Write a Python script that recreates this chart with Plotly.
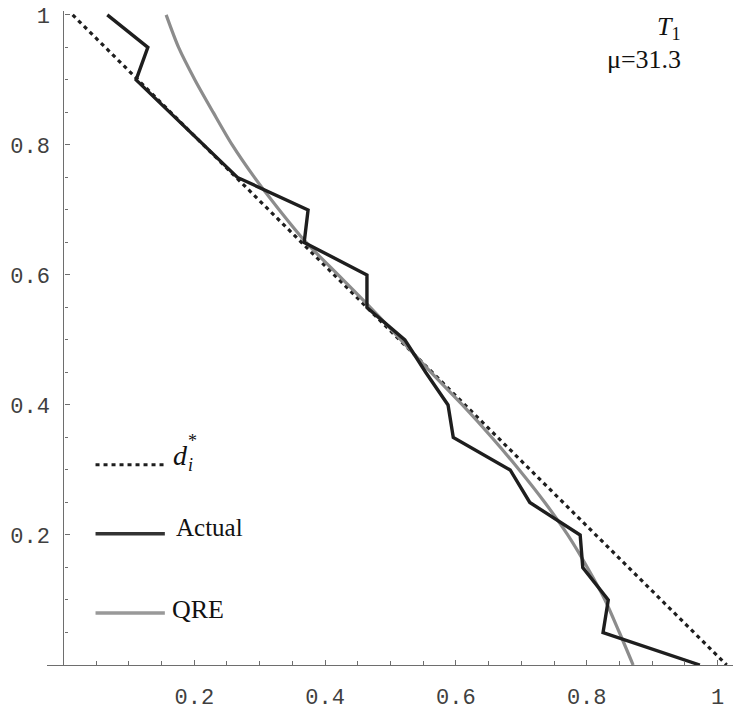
import plotly.graph_objects as go

# Share levels (y) at which each curve is evaluated
actual_y = [1.0, 0.95, 0.90, 0.85, 0.80, 0.75, 0.70, 0.65, 0.60, 0.55, 0.50,
            0.45, 0.40, 0.35, 0.30, 0.25, 0.20, 0.15, 0.10, 0.05, 0.0]
actual_x = [0.067, 0.129, 0.111, 0.163, 0.214, 0.266, 0.374, 0.368, 0.464, 0.464, 0.522,
            0.554, 0.588, 0.596, 0.683, 0.713, 0.790, 0.794, 0.833, 0.825, 0.973]

qre_y = [1.0, 0.95, 0.90, 0.85, 0.80, 0.75, 0.70, 0.65, 0.60, 0.55, 0.50,
         0.45, 0.40, 0.35, 0.30, 0.25, 0.20, 0.15, 0.10, 0.05, 0.0]
qre_x = [0.157, 0.176, 0.201, 0.229, 0.258, 0.292, 0.330, 0.371, 0.420, 0.469, 0.516,
         0.562, 0.610, 0.655, 0.697, 0.736, 0.771, 0.801, 0.828, 0.850, 0.871]

dstar_y = [1.0, 0.0]
dstar_x = [0.014, 1.014]

tick_vals = [0.2, 0.4, 0.6, 0.8, 1.0]
tick_text = ["0.2", "0.4", "0.6", "0.8", "1"]
minor_vals = [round(0.05 * k, 2) for k in range(1, 21)]

BLACK = "#1e1e1e"
GREY = "#8c8c8c"
AXIS = "#6e6e6e"
DOT = "4px,4px"

XR = [-0.0252, 1.0237]
YR = [0.0, 1.006]

fig = go.Figure()
fig.add_trace(go.Scatter(x=dstar_x, y=dstar_y, mode="lines",
                         line=dict(color=BLACK, width=3.2, dash=DOT)))
fig.add_trace(go.Scatter(x=qre_x, y=qre_y, mode="lines",
                         line=dict(color=GREY, width=3.2, shape="spline", smoothing=0.8)))
fig.add_trace(go.Scatter(x=actual_x, y=actual_y, mode="lines",
                         line=dict(color=BLACK, width=3.4)))

# Hand-drawn key
key = [
    (0.308, dict(color=BLACK, width=3.2, dash=DOT)),
    (0.202, dict(color="#333333", width=3.6)),
    (0.080, dict(color="#999999", width=3.6)),
]
for ky, ln in key:
    fig.add_shape(type="line", xref="x", yref="y", x0=0.049, x1=0.155, y0=ky, y1=ky,
                  line=ln)

serif = "Liberation Serif"
fig.add_annotation(x=0.165, y=0.322, xref="x", yref="y", text="<i>d</i>",
                   showarrow=False, xanchor="left", yanchor="middle",
                   font=dict(family=serif, size=28, color="#111"))
fig.add_annotation(x=0.188, y=0.344, xref="x", yref="y", text="*",
                   showarrow=False, xanchor="left", yanchor="middle",
                   font=dict(family=serif, size=18, color="#111"))
fig.add_annotation(x=0.187, y=0.307, xref="x", yref="y", text="<i>i</i>",
                   showarrow=False, xanchor="left", yanchor="middle",
                   font=dict(family=serif, size=18, color="#111"))
fig.add_annotation(x=0.169, y=0.212, xref="x", yref="y", text="Actual",
                   showarrow=False, xanchor="left", yanchor="middle",
                   font=dict(family=serif, size=25, color="#111"))
fig.add_annotation(x=0.163, y=0.085, xref="x", yref="y", text="QRE",
                   showarrow=False, xanchor="left", yanchor="middle",
                   font=dict(family=serif, size=26, color="#111"))
fig.add_annotation(x=0.947, y=0.980, xref="x", yref="y", text="<i>T</i><sub>1</sub>",
                   showarrow=False, xanchor="right", yanchor="middle",
                   font=dict(family=serif, size=26, color="#111"))
fig.add_annotation(x=0.947, y=0.932, xref="x", yref="y", text="\u03bc=31.3",
                   showarrow=False, xanchor="right", yanchor="middle",
                   font=dict(family=serif, size=26, color="#111"))

mono = dict(family="Liberation Mono", size=22, color="#404040")
fig.update_layout(
    width=733, height=711,
    margin=dict(l=47, r=0, t=11, b=42),
    paper_bgcolor="white", plot_bgcolor="white",
    showlegend=False,
    xaxis=dict(range=XR, showgrid=False, zeroline=False,
               showline=True, linecolor=AXIS, linewidth=1.3,
               tickmode="array", tickvals=tick_vals, ticktext=tick_text,
               ticks="inside", ticklen=5, tickwidth=1.2, tickcolor=AXIS,
               ticklabelstandoff=11,
               minor=dict(tickmode="array", tickvals=minor_vals, ticks="inside",
                          ticklen=3.5, tickwidth=1.1, tickcolor=AXIS),
               tickfont=mono),
    yaxis=dict(range=YR, showgrid=False, zeroline=False,
               anchor="free", position=0.0252 / (XR[1] - XR[0]),
               showline=True, linecolor=AXIS, linewidth=1.3,
               tickmode="array", tickvals=tick_vals, ticktext=tick_text,
               ticks="inside", ticklen=5, tickwidth=1.2, tickcolor=AXIS,
               ticklabelstandoff=9,
               minor=dict(tickmode="array", tickvals=minor_vals, ticks="inside",
                          ticklen=3.5, tickwidth=1.1, tickcolor=AXIS),
               tickfont=mono),
)

fig.write_html("out.html", config=dict(displayModeBar=False))
